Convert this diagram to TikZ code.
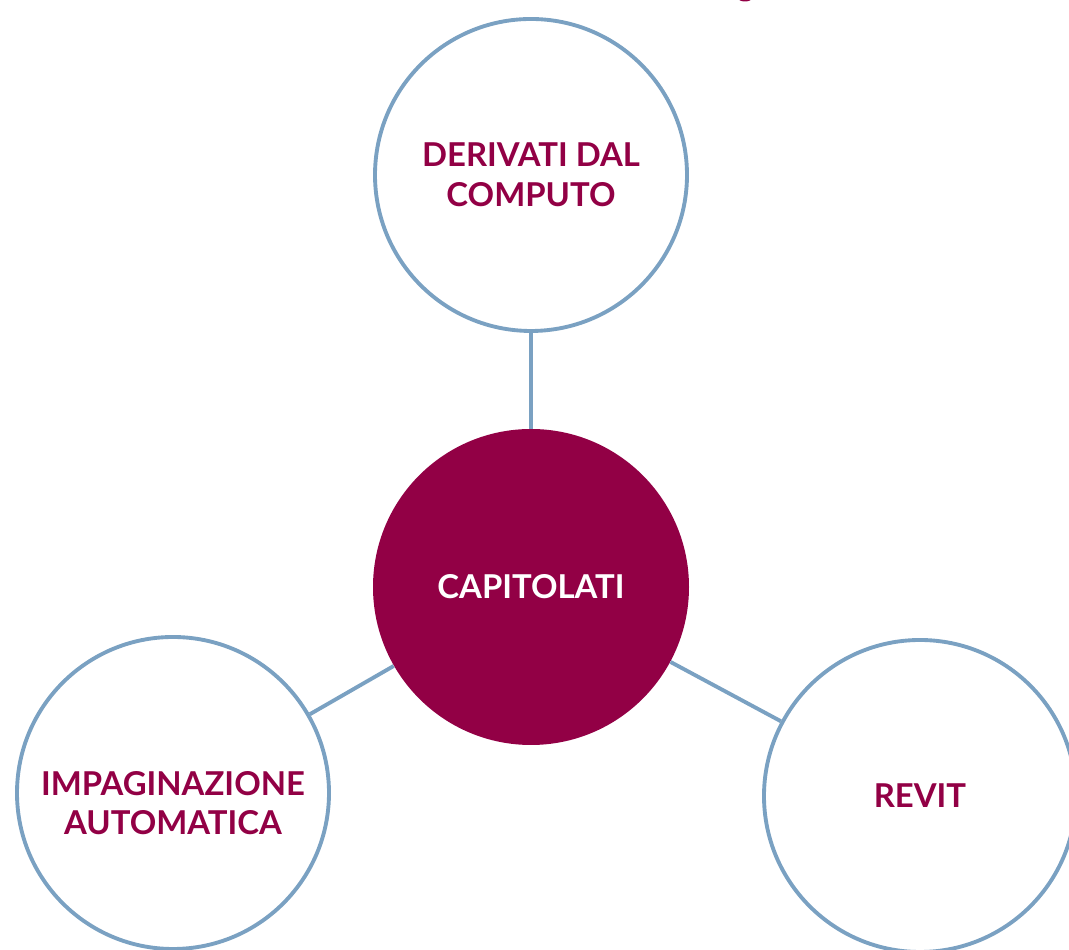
\documentclass[tikz,border=0pt]{standalone}
\usepackage{fontspec}
\setmainfont{Lato}
\definecolor{capred}{RGB}{146, 0, 69}
\definecolor{ringblue}{RGB}{122, 161, 194}
\tikzset{
    every node/.style={font=\bfseries\fontsize{18.7}{22.5}\selectfont, align=center},
    hub/.style={circle, fill=capred, text=white, minimum size=6.32cm, inner sep=0pt},
    spoke/.style={circle, draw=ringblue, line width=2.2pt, fill=white,
        text=capred, minimum size=6.24cm, inner sep=0pt},
    link/.style={draw=ringblue, line width=2.2pt},
}

\begin{document}
\begin{tikzpicture}
    \useasboundingbox (0, 0) rectangle (21.38, 19);
    \clip (0, 0) rectangle (21.38, 19);
    \fill[capred] (14.90, 19.04) ellipse (0.14 and 0.07);
    \node[hub] (capitolati) at (10.62, 7.26) {CAPITOLATI};
    \node[spoke] (derivati) at (10.62, 15.50) {DERIVATI DAL\\COMPUTO};
    \node[spoke] (impaginazione) at (3.46, 3.14) {};
    \node[text=capred] (impaginazionetext) at ([yshift=-0.2cm]impaginazione.center)
        {IMPAGINAZIONE\\AUTOMATICA};
    \node[spoke] (revit) at (18.40, 3.08) {REVIT};
    \foreach \ring in {derivati, impaginazione, revit}
        \draw[link] (capitolati) -- (\ring);
\end{tikzpicture}
\end{document}
